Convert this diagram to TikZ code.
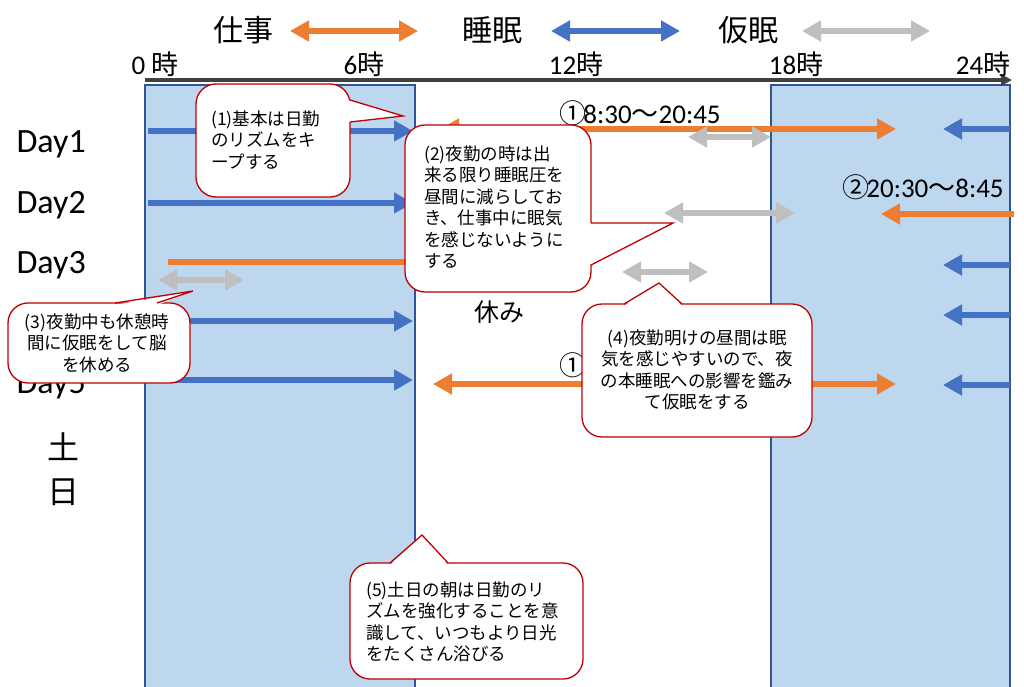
\documentclass[tikz,border=0pt]{standalone}
\usepackage{fontspec}
\setmainfont{Carlito}
\newfontfamily\jp{Noto Sans CJK JP}
\usetikzlibrary{arrows.meta}
\definecolor{sleepblue}{HTML}{4472C4}
\definecolor{workorange}{HTML}{ED7D31}
\definecolor{napgray}{HTML}{BFBFBF}
\definecolor{nightfill}{HTML}{BDD7EE}
\definecolor{nightline}{HTML}{2F5597}
\definecolor{calloutred}{HTML}{C00000}
\definecolor{axisgray}{HTML}{404040}
\begin{document}
\begin{tikzpicture}[x=1pt,y=-1pt,>={Triangle[length=19pt,width=20pt]},
		sleep/.style={draw=sleepblue,line width=5.5pt},
		work/.style={draw=workorange,line width=5.5pt},
		nap/.style={draw=napgray,line width=5.5pt},
		bubble/.style={draw=calloutred,fill=white,line width=1.3pt,rounded corners=20pt},
		pointer/.style={draw=calloutred,line width=1.3pt},
		bubbletext/.style={font=\jp\fontsize{17.5}{21.5}\selectfont,inner sep=0pt}]
		\useasboundingbox (0,0) rectangle (1024,687);
		% night shift bands
		\fill[nightfill] (145,85) rectangle (415,690);
		\draw[nightline,line width=1.2pt] (145,690) -- (145,85) -- (415,85) -- (415,690);
		\fill[nightfill] (771,85) rectangle (1010,690);
		\draw[nightline,line width=1.2pt] (771,690) -- (771,85) -- (1010,85) -- (1010,690);
		% legend
		\node (lwork) at (243,30) {\jp\fontsize{30}{36}\selectfont 仕事};
		\draw[work,<->] (290,31) -- (418,31);
		\node (lsleep) at (492,30) {\jp\fontsize{30}{36}\selectfont 睡眠};
		\draw[sleep,<->] (551,31) -- (680,31);
		\node (lnap) at (748,30) {\jp\fontsize{30}{36}\selectfont 仮眠};
		\draw[nap,<->] (802,31) -- (930,31);
		% time axis
		\draw[axisgray,line width=3.5pt,-{Triangle[length=11pt,width=11pt]}] (145,80) -- (1012,80);
		\node[anchor=base] (h0) at (155,75) {\fontsize{27}{32}\selectfont 0 {\jp 時}};
		\node[anchor=base] (h6) at (364,75) {\fontsize{27}{32}\selectfont 6{\jp 時}};
		\node[anchor=base] (h12) at (576,75) {\fontsize{27}{32}\selectfont 12{\jp 時}};
		\node[anchor=base] (h18) at (796,75) {\fontsize{27}{32}\selectfont 18{\jp 時}};
		\node[anchor=base] (h24) at (983,75) {\fontsize{27}{32}\selectfont 24{\jp 時}};
		% days
		\node[anchor=base west,font=\fontsize{34}{40}\selectfont] (day1) at (13,153) {Day1};
		\node[anchor=base west,font=\fontsize{34}{40}\selectfont] (day2) at (13,213) {Day2};
		\node[anchor=base west,font=\fontsize{34}{40}\selectfont] (day3) at (13,273) {Day3};
		\node[anchor=base west,font=\fontsize{34}{40}\selectfont] (day4) at (13,333) {Day4};
		\node[anchor=base west,font=\fontsize{34}{40}\selectfont] (day5) at (13,393) {Day5};
		\node (sat) at (63,447) {\jp\fontsize{32}{38}\selectfont 土};
		\node (sun) at (63,492) {\jp\fontsize{32}{38}\selectfont 日};
		\node (rest) at (499,312) {\jp\fontsize{25}{30}\selectfont 休み};
		\node (shift1) at (640,113) {\fontsize{27}{32}\selectfont{\jp ①}\kern-3pt 8:30{\jp 〜}20:45};
		\node (shift2) at (923,187) {\fontsize{27}{32}\selectfont{\jp ②}\kern-3pt 20:30{\jp 〜}8:45};
		\node (shift1b) at (640,365) {\fontsize{27}{32}\selectfont{\jp ①}\kern-3pt 8:30{\jp 〜}20:45};
		% sleep
		\draw[sleep,->] (148,131) -- (413,131);
		\draw[sleep,->] (148,203) -- (413,203);
		\draw[sleep,->] (148,321) -- (413,321);
		\draw[sleep,->] (148,380) -- (413,380);
		\draw[sleep,->] (1010,129) -- (943,129);
		\draw[sleep,->] (1010,265) -- (943,265);
		\draw[sleep,->] (1010,315) -- (943,315);
		\draw[sleep,->] (1010,385) -- (943,385);
		% work
		\draw[work,<->] (440,129) -- (896,129);
		\draw[work,->] (1014,214) -- (881,214);
		\draw[work] (168,262) -- (430,262);
		\draw[work,<->] (433,384) -- (896,384);
		% naps
		\draw[nap,<->] (688,137) -- (771,137);
		\draw[nap,<->] (664,213) -- (795,213);
		\draw[nap,<->] (158,280) -- (244,280);
		\draw[nap,<->] (622,272) -- (708,272);
		% callouts
		\draw[bubble] (196,84) rectangle (350,197);
		\fill[white] (348,100) -- (403,116) -- (348,122) -- cycle;
		\draw[pointer] (350,100) -- (403,116) -- (350,122);
		\node[bubbletext,anchor=west,align=left] (note1) at (211,140) {(1)基本は日勤\\のリズムをキ\\ープする};
		\draw[bubble] (405,125) rectangle (591,292);
		\fill[white] (589,223) -- (673,223) -- (589,265) -- cycle;
		\draw[pointer] (591,223) -- (673,223) -- (591,265);
		\node[bubbletext,anchor=west,align=left] (note2) at (424,207) {(2)夜勤の時は出\\来る限り睡眠圧を\\昼間に減らしてお\\き、仕事中に眠気\\を感じないように\\する};
		\draw[bubble] (8,303) rectangle (190,383);
		\fill[white] (115,305) -- (193,291) -- (157,305) -- cycle;
		\draw[pointer] (115,303) -- (193,291) -- (157,303);
		\node[bubbletext,align=center] (note3) at (97,343) {(3)夜勤中も休憩時\\間に仮眠をして脳\\を休める};
		\draw[bubble] (582,304) rectangle (812,437);
		\fill[white] (624,306) -- (659,283) -- (682,306) -- cycle;
		\draw[pointer] (624,304) -- (659,283) -- (682,304);
		\node[bubbletext,align=center] (note4) at (697,370) {(4)夜勤明けの昼間は眠\\気を感じやすいので、夜\\の本睡眠への影響を鑑み\\て仮眠をする};
		\draw[bubble] (350,563) rectangle (583,679);
		\fill[white] (390,565) -- (422,535) -- (448,565) -- cycle;
		\draw[pointer] (390,563) -- (422,535) -- (448,563);
		\node[bubbletext,anchor=west,align=left] (note5) at (366,622) {(5)土日の朝は日勤のリ\\ズムを強化することを意\\識して、いつもより日光\\をたくさん浴びる};
	\end{tikzpicture}
\end{document}
